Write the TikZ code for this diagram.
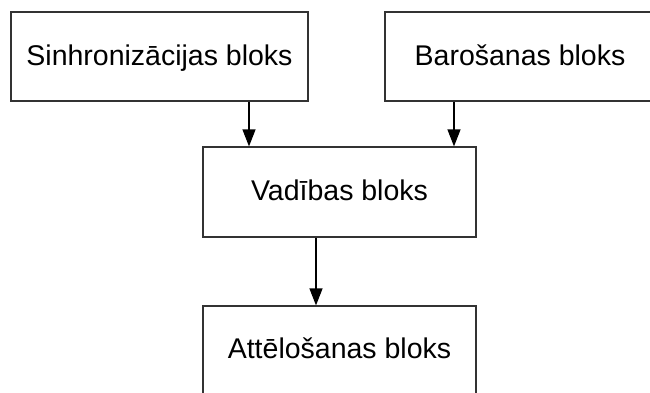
\documentclass[tikz,border=0pt]{standalone}
\usepackage{fontspec}
\setmainfont{Liberation Sans}
\usetikzlibrary{arrows.meta}
\begin{document}
\begin{tikzpicture}[x=1pt,y=-1pt,
  blockbox/.style={draw=black!80,line width=1.2pt,fill=white,inner sep=0pt,
    text height=20.4pt,text depth=3.4pt,
    font=\fontsize{28.5}{34}\selectfont},
  flow/.style={draw=black,line width=1.2pt,-{Triangle[length=17pt,width=13pt]}}]
  \useasboundingbox (0,0) rectangle (650,392);
  % top row
  \node[blockbox,minimum width=297pt,minimum height=89pt] (sync) at (159.5,56.5) {Sinhronizācijas bloks};
  \node[blockbox,minimum width=270pt,minimum height=89pt] (ctrl) at (520,56.5) {Barošanas bloks};
  % middle
  \node[blockbox,minimum width=273pt,minimum height=90pt] (main) at (339.5,192) {Vadības bloks};
  % bottom
  \node[blockbox,minimum width=273pt,minimum height=92pt,text depth=8.4pt] (disp) at (339.5,352) {Attēlošanas bloks};
  % connectors
  \coordinate (a1) at (249,0);
  \coordinate (a2) at (454,0);
  \coordinate (a3) at (316,0);
  \draw[flow] (sync.south -| a1) -- (main.north -| a1);
  \draw[flow] (ctrl.south -| a2) -- (main.north -| a2);
  \draw[flow] (main.south -| a3) -- (disp.north -| a3);
\end{tikzpicture}
\end{document}
